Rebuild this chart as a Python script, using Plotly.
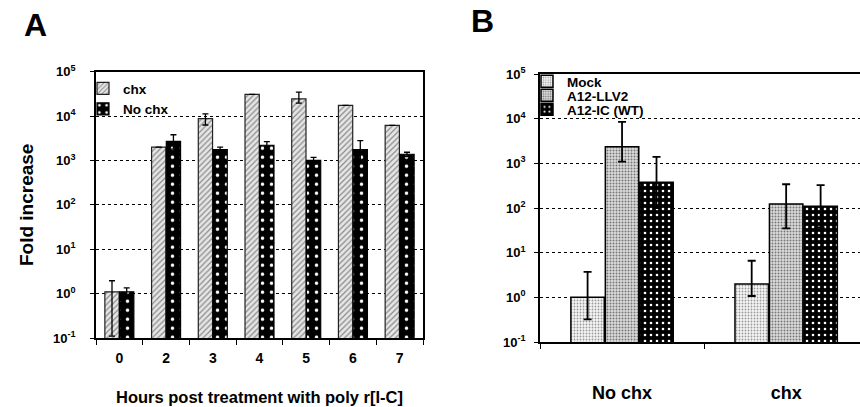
import plotly.graph_objects as go

# ---------------- Panel A data ----------------
hours = ["0", "2", "3", "4", "5", "6", "7"]
chx_vals = [1.1, 2000, 8800, 31000, 24500, 17500, 6200]
chx_err_plus = [0.85, 0, 2400, 0, 10000, 0, 0]
chx_err_minus = [0.99, 0, 2500, 0, 5000, 0, 0]
nochx_vals = [1.1, 2700, 1750, 2200, 1000, 1750, 1380]
nochx_err_plus = [0.25, 1100, 250, 450, 170, 1050, 150]
nochx_err_minus = [0.25, 900, 250, 400, 170, 800, 150]

# ---------------- Panel B data ----------------
groups = ["No chx", "chx"]
mock_vals = [1.0, 2.0]
mock_err_plus = [2.7, 4.6]
mock_err_minus = [0.68, 0.93]
llv2_vals = [2350, 123]
llv2_err_plus = [6150, 217]
llv2_err_minus = [1260, 88]
ic_vals = [375, 110]
ic_err_plus = [1025, 215]
ic_err_minus = [275, 73]

# ---------------- Tick labels ----------------
ytick_vals = [0.1, 1, 10, 100, 1000, 10000, 100000]
ytick_text = ["10<sup>-1</sup>", "10<sup>0</sup>", "10<sup>1</sup>", "10<sup>2</sup>",
              "10<sup>3</sup>", "10<sup>4</sup>", "10<sup>5</sup>"]

FONT = "Liberation Sans, Arial, sans-serif"
W, H = 860, 407

def err(plus, minus, width, thick):
    return dict(type="data", symmetric=False, array=plus, arrayminus=minus,
                color="black", thickness=thick, width=width, visible=True)

fig = go.Figure()

# Panel A bars
fig.add_trace(go.Bar(
    x=hours, y=chx_vals, name="chx", xaxis="x", yaxis="y", legend="legend",
    marker=dict(color="#dcdcdc", line=dict(color="#222", width=1.2),
                pattern=dict(shape="/", fgcolor="#8a8a8a", bgcolor="#e6e6e6",
                             size=4, solidity=0.3, fillmode="replace")),
    error_y=err(chx_err_plus, chx_err_minus, 3, 1.3),
))
fig.add_trace(go.Bar(
    x=hours, y=nochx_vals, name="No chx", xaxis="x", yaxis="y", legend="legend",
    marker=dict(color="black", line=dict(color="black", width=1.2),
                pattern=dict(shape=".", fgcolor="white", bgcolor="black",
                             size=9, solidity=0.12, fillmode="replace")),
    error_y=err(nochx_err_plus, nochx_err_minus, 3, 1.3),
))

# Panel B bars
fig.add_trace(go.Bar(
    x=groups, y=mock_vals, name="Mock", xaxis="x2", yaxis="y2", legend="legend2",
    marker=dict(color="#eeeeee", line=dict(color="black", width=1.5),
                pattern=dict(shape=".", fgcolor="#9a9a9a", bgcolor="#f6f6f6",
                             size=3, solidity=0.3, fillmode="replace")),
    error_y=err(mock_err_plus, mock_err_minus, 4, 1.8),
))
fig.add_trace(go.Bar(
    x=groups, y=llv2_vals, name="A12-LLV2", xaxis="x2", yaxis="y2", legend="legend3",
    marker=dict(color="#cccccc", line=dict(color="black", width=1.5),
                pattern=dict(shape=".", fgcolor="#777777", bgcolor="#dcdcdc",
                             size=3, solidity=0.35, fillmode="replace")),
    error_y=err(llv2_err_plus, llv2_err_minus, 4, 1.8),
))
fig.add_trace(go.Bar(
    x=groups, y=ic_vals, name="A12-IC (WT)", xaxis="x2", yaxis="y2", legend="legend4",
    marker=dict(color="black", line=dict(color="black", width=1.5),
                pattern=dict(shape=".", fgcolor="white", bgcolor="black",
                             size=6, solidity=0.15, fillmode="replace")),
    error_y=err(ic_err_plus, ic_err_minus, 4, 1.8),
))

def yax(domain, standoff, mirror, title=None):
    d = dict(
        type="log", range=[-1, 5], domain=domain,
        tickvals=ytick_vals, ticktext=ytick_text,
        tickfont=dict(family=FONT, size=13, color="black", weight=700),
        ticks="outside", ticklen=4, tickwidth=1.2, tickcolor="black",
        ticklabelstandoff=standoff,
        showline=True, linecolor="black", linewidth=1.5, mirror=mirror,
        showgrid=True, gridcolor="black", gridwidth=1, griddash="dot",
        zeroline=False, automargin=False,
    )
    if title:
        d["title"] = dict(text=title, standoff=14,
                          font=dict(family=FONT, size=19, color="black", weight=700))
    return d

def leg(x_px, top_px, size):
    return dict(
        x=x_px / W, y=(H - top_px) / H, xanchor="left", yanchor="top",
        bgcolor="rgba(0,0,0,0)", borderwidth=0, itemwidth=30,
        font=dict(family=FONT, size=size, color="black", weight=700),
        tracegroupgap=0,
    )

fig.update_layout(
    width=W, height=H, autosize=False,
    margin=dict(l=0, r=0, t=0, b=0),
    paper_bgcolor="white", plot_bgcolor="white",
    barmode="group", bargap=0.37, bargroupgap=0.03,
    font=dict(family=FONT, color="black"),
    xaxis=dict(
        domain=[96 / W, 423 / W], anchor="y",
        tickfont=dict(family=FONT, size=14, color="black", weight=700),
        ticks="outside", tickson="boundaries", ticklen=5, tickwidth=1.2,
        tickcolor="black", ticklabelstandoff=6,
        showline=True, linecolor="black", linewidth=1.5, mirror=True,
        showgrid=False, automargin=False,
        title=dict(text="Hours post treatment with poly r[I-C]", standoff=27,
                   font=dict(family=FONT, size=16.5, color="black", weight=700)),
    ),
    yaxis=yax([(H - 338) / H, (H - 71.7) / H], 12, True, "Fold increase") | dict(anchor="x"),
    xaxis2=dict(
        domain=[540 / W, 1.0], anchor="y2", range=[-0.5, 1.45],
        tickfont=dict(family=FONT, size=18, color="black", weight=700),
        ticks="outside", tickson="boundaries", ticklen=5, tickwidth=1.2,
        tickcolor="black", ticklabelstandoff=34,
        showline=True, linecolor="black", linewidth=1.5, mirror=True,
        showgrid=False, automargin=False,
    ),
    yaxis2=yax([(H - 342) / H, (H - 74) / H], 6, False) | dict(anchor="x2"),
    legend=leg(83, 73, 13.5),
    legend2=leg(527, 66, 13.5),
    legend3=leg(527, 80, 13.5),
    legend4=leg(527, 94, 13.5),
    annotations=[
        dict(text="A", x=35 / W, y=(H - 25) / H, xref="paper", yref="paper",
             xanchor="center", yanchor="middle", showarrow=False,
             font=dict(family=FONT, size=32, color="black", weight=700)),
        dict(text="B", x=482 / W, y=(H - 21) / H, xref="paper", yref="paper",
             xanchor="center", yanchor="middle", showarrow=False,
             font=dict(family=FONT, size=32, color="black", weight=700)),
    ],
)

fig.write_html("out.html", config={"displayModeBar": False},
               post_script="document.body.style.margin='0px';document.body.style.overflow='hidden';")
